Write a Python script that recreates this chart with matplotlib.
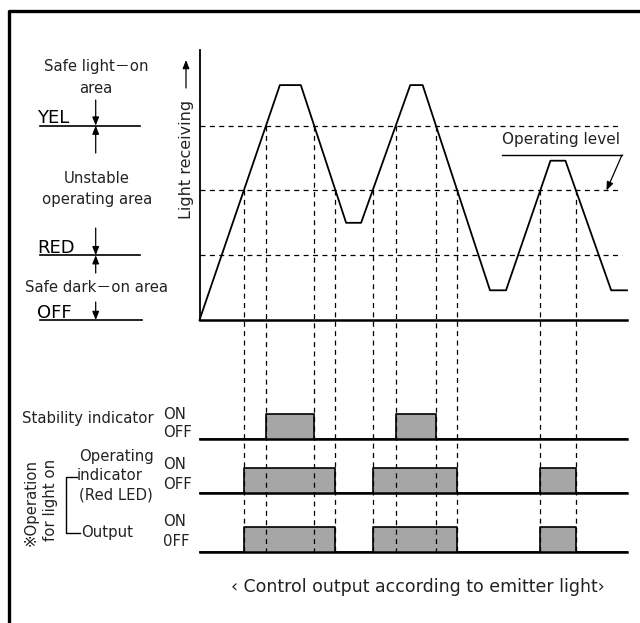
import numpy as np
import matplotlib
matplotlib.use("Agg")
import matplotlib.pyplot as plt

plt.rcParams['font.family'] = ['DejaVu Sans', 'Noto Sans CJK KR']

# light receiving waveform (time in arbitrary units, level in % of axis)
wave_t = [0, 18.8, 23.7, 34.3, 37.8, 49.3, 52.2, 67.95, 71.7, 82.1, 85.6, 96.3, 100]
wave_level = [0, 87, 87, 36, 36, 87, 87, 11, 11, 59, 59, 11, 11]

# threshold levels
level_names = ['YEL', 'RED', 'OFF']
level_yel = 72
level_op = 48
level_red = 24
level_off = 0

# timing rows: baseline, pulse height, threshold, ON/OFF label offsets
row_names = ['Stability indicator', 'Operating indicator', 'Output']
row_base = [-43.9, -64.0, -85.9]
row_height = 9.2
row_thresh = [level_yel, level_op, level_op]
row_on_off = [(9.0, 2.3), (10.3, 3.1), (11.1, 3.7)]
row_off_text = ['OFF', 'OFF', '0FF']

T_END = 100
# pixel layout of the figure
W, H = 640, 623
X0, Y0 = 199.5, 320
PX_T, PX_L = 4.275, 2.7


def crossings(level):
    t = np.array(wave_t, dtype=float)
    v = np.array(wave_level, dtype=float)
    out = []
    for i in range(len(t) - 1):
        a, b = v[i] - level, v[i + 1] - level
        if a * b < 0:
            out.append(t[i] + (t[i + 1] - t[i]) * (-a) / (b - a))
    return out


def tx(px):
    return (px - X0) / PX_T


def ly(py):
    return (Y0 - py) / PX_L


fig = plt.figure(figsize=(W / 100, H / 100), dpi=100)
ax = fig.add_axes([0, 0, 1, 1])
ax.set_xlim(tx(0), tx(W))
ax.set_ylim(ly(H), ly(0))
ax.axis('off')

ink = '#000000'
txt = '#222222'
fs = 10.7

# frame
ax.plot([tx(9), tx(9), tx(W)], [ly(H), ly(11), ly(11)], color=ink, lw=2.4,
        solid_capstyle='projecting')

# axes of the light chart
ax.plot([0, 0], [0, ly(50)], color=ink, lw=1.3)
ax.plot([0, T_END], [0, 0], color=ink, lw=1.8)
ax.plot(wave_t, wave_level, color=ink, lw=1.3)

# dashed threshold levels
dash = dict(color=ink, lw=0.9, linestyle=(0, (4, 3.5)))
for lv in [level_yel, level_op, level_red]:
    ax.plot([0, tx(622)], [lv, lv], **dash)

# vertical dashed lines at crossings
for lv in [level_yel, level_op]:
    for c in crossings(lv):
        ax.plot([c, c], [lv, row_base[-1]], **dash)

# timing rows
for base, th, (on_dy, off_dy), off_lbl in zip(row_base, row_thresh, row_on_off, row_off_text):
    cr = crossings(th)
    xs, ys = [0], [base]
    for a, b in zip(cr[0::2], cr[1::2]):
        xs += [a, a, b, b]
        ys += [base, base + row_height, base + row_height, base]
        ax.fill_between([a, b], base, base + row_height, color='#a6a6a6', lw=0)
    xs.append(T_END)
    ys.append(base)
    ax.plot(xs, ys, color=ink, lw=1.2)
    ax.plot([0, T_END], [base, base], color=ink, lw=1.8)
    ax.text(tx(163), base + on_dy, 'ON', fontsize=fs, color=txt, ha='left', va='center')
    ax.text(tx(163), base + off_dy, off_lbl, fontsize=fs, color=txt, ha='left', va='center')

# left side level lines
for lv, name, x1 in zip([level_yel, level_red, level_off], level_names, [140, 140, 142]):
    ax.plot([tx(40), tx(x1)], [lv, lv], color=ink, lw=1.2)
    ax.text(tx(37), lv + 0.9, name, fontsize=13, color=ink, ha='left', va='baseline')

arrow = dict(arrowstyle='-|>,head_length=0.5,head_width=0.2', color=ink, lw=0.9,
             shrinkA=0, shrinkB=0)
ax_x = tx(95.7)
for y_from, lv in [(100, level_yel), (153, level_yel), (228, level_red),
                   (273, level_red), (302, level_off)]:
    ax.annotate('', xy=(ax_x, lv), xytext=(ax_x, ly(y_from)), arrowprops=arrow)

ax.text(tx(96), ly(67), 'Safe light\uff0don', fontsize=fs, color=txt, ha='center', va='center')
ax.text(tx(96), ly(89), 'area', fontsize=fs, color=txt, ha='center', va='center')
ax.text(tx(97), ly(179), 'Unstable', fontsize=fs, color=txt, ha='center', va='center')
ax.text(tx(97), ly(200), 'operating area', fontsize=fs, color=txt, ha='center', va='center')
ax.text(tx(96), ly(288), 'Safe dark\uff0don area', fontsize=fs, color=txt, ha='center', va='center')

# y label
ax.text(tx(186), ly(159), 'Light receiving', fontsize=11.5, color=txt, rotation=90,
        ha='center', va='center')
ax.annotate('', xy=(tx(186), ly(60)), xytext=(tx(186), ly(88)), arrowprops=arrow)

# operating level callout
ax.text(tx(561), ly(140), 'Operating level', fontsize=11, color=txt, ha='center', va='center')
ax.plot([tx(502), tx(622)], [ly(155), ly(155)], color=ink, lw=1.0)
ax.annotate('', xy=(tx(606.5), level_op), xytext=(tx(622), ly(155)), arrowprops=arrow)

# timing row labels
ax.text(tx(22), ly(419), 'Stability indicator', fontsize=fs, color=txt, ha='left', va='center')
ax.text(tx(116), ly(456.5), 'Operating', fontsize=fs, color=txt, ha='center', va='center')
ax.text(tx(77), ly(476), 'indicator', fontsize=fs, color=txt, ha='left', va='center')
ax.text(tx(79), ly(495), '(Red LED)', fontsize=fs, color=txt, ha='left', va='center')
ax.text(tx(81), ly(533), 'Output', fontsize=fs, color=txt, ha='left', va='center')

# bracket
ax.plot([tx(77), tx(65.7), tx(65.7), tx(80)], [ly(477), ly(477), ly(533), ly(533)],
        color=ink, lw=1.0)
ax.text(tx(31), ly(502), '\u203bOperation', fontsize=fs, color=txt, rotation=90,
        ha='center', va='center')
ax.text(tx(50), ly(500), 'for light on', fontsize=fs, color=txt, rotation=90,
        ha='center', va='center')

ax.text(tx(418), ly(587), '\u2039 Control output according to emitter light\u203a',
        fontsize=12.5, color=txt, ha='center', va='center')

fig.savefig('out.png', dpi=100, facecolor='white')
